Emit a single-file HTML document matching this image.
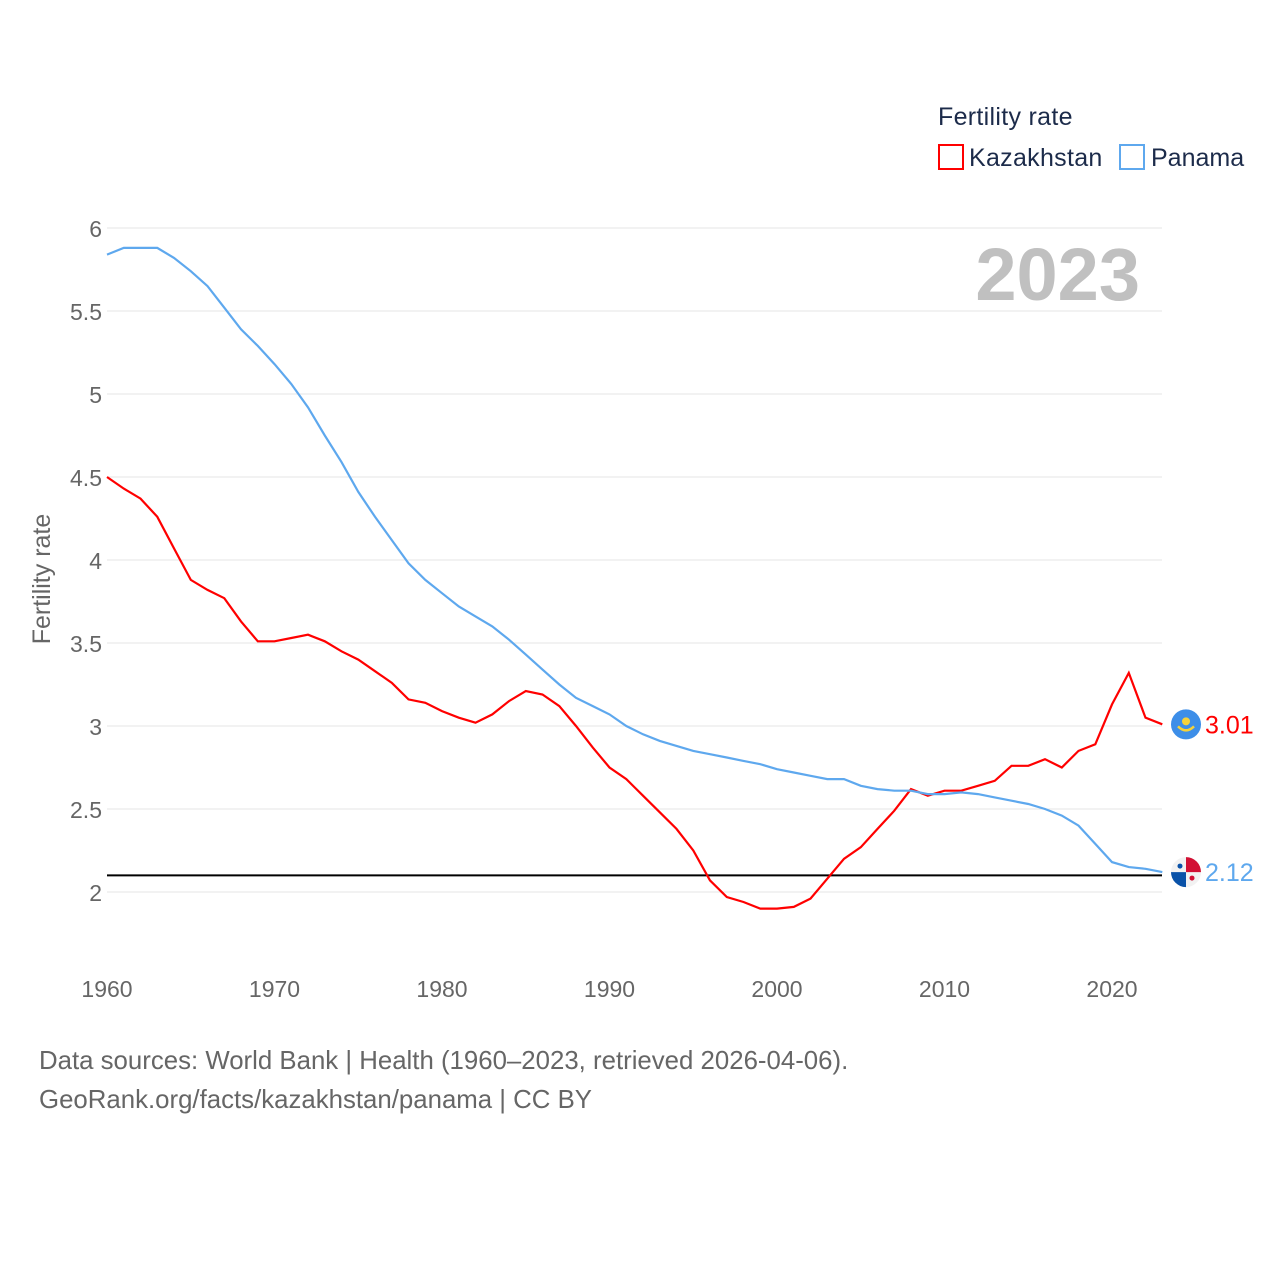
<!DOCTYPE html>
<html><head><meta charset="utf-8"><style>
html,body{margin:0;padding:0;background:#fff;}
body{width:1280px;height:1280px;overflow:hidden;font-family:"Liberation Sans",sans-serif;}
</style></head><body>
<svg id="chart" width="1280" height="1280" xmlns="http://www.w3.org/2000/svg" font-family="Liberation Sans, sans-serif">
<g id="grid"></g>
<g id="yticks"></g>
<g id="xticks"></g>
<text x="1140" y="300" text-anchor="end" font-size="74" font-weight="bold" fill="#c0c0c0">2023</text>
<text transform="translate(50,579) rotate(-90)" text-anchor="middle" font-size="25" fill="#666">Fertility rate</text>
<line id="refline" x1="107" x2="1162" stroke="#000" stroke-width="2"/>
<path id="kaz" fill="none" stroke="#f00" stroke-width="2.2"/>
<path id="pan" fill="none" stroke="#5ea8ee" stroke-width="2.2"/>
<g id="ends"></g>
<g>
<text x="938" y="125" font-size="25" fill="#1c2b4a" letter-spacing="0.3">Fertility rate</text>
<rect x="939" y="145" width="24" height="24" fill="none" stroke="#f00" stroke-width="2"/>
<text x="969" y="166" font-size="25" fill="#1c2b4a" letter-spacing="0.3">Kazakhstan</text>
<rect x="1120" y="145" width="24" height="24" fill="none" stroke="#5ea8ee" stroke-width="2"/>
<text x="1151" y="166" font-size="25" fill="#1c2b4a">Panama</text>
</g>
<text x="39" y="1069" font-size="25.8" fill="#666">Data sources: World Bank | Health (1960–2023, retrieved 2026-04-06).</text>
<text x="39" y="1108" font-size="25.8" fill="#666">GeoRank.org/facts/kazakhstan/panama | CC BY</text>
</svg>
<script>
const startYear = 1960;
const kazakhstan = [4.50,4.43,4.37,4.26,4.07,3.88,3.82,3.77,3.63,3.51,3.51,3.53,3.55,3.51,3.45,3.40,3.33,3.26,3.16,3.14,3.09,3.05,3.02,3.07,3.15,3.21,3.19,3.12,3.00,2.87,2.75,2.68,2.58,2.48,2.38,2.25,2.07,1.97,1.94,1.90,1.90,1.91,1.96,2.08,2.20,2.27,2.38,2.49,2.62,2.58,2.61,2.61,2.64,2.67,2.76,2.76,2.80,2.75,2.85,2.89,3.13,3.32,3.05,3.01];
const panama = [5.84,5.88,5.88,5.88,5.82,5.74,5.65,5.52,5.39,5.29,5.18,5.06,4.92,4.75,4.59,4.41,4.26,4.12,3.98,3.88,3.80,3.72,3.66,3.60,3.52,3.43,3.34,3.25,3.17,3.12,3.07,3.00,2.95,2.91,2.88,2.85,2.83,2.81,2.79,2.77,2.74,2.72,2.70,2.68,2.68,2.64,2.62,2.61,2.61,2.59,2.59,2.60,2.59,2.57,2.55,2.53,2.50,2.46,2.40,2.29,2.18,2.15,2.14,2.12];
const yTicks = [2,2.5,3,3.5,4,4.5,5,5.5,6];
const yTickLabels = ["2","2.5","3","3.5","4","4.5","5","5.5","6"];
const xTicks = [1960,1970,1980,1990,2000,2010,2020];
const referenceValue = 2.1;
const NS="http://www.w3.org/2000/svg";
function xs(y){return 107+(y-1960)*(1112-107)/60;}
function ys(v){return 892-(v-2)*166;}
function mk(t,a,p){const e=document.createElementNS(NS,t);for(const k in a)e.setAttribute(k,a[k]);p.appendChild(e);return e;}
const grid=document.getElementById('grid'),yt=document.getElementById('yticks'),xt=document.getElementById('xticks');
yTicks.forEach((v,i)=>{
 const l=mk('line',{x1:107,x2:1162,y1:ys(v),y2:ys(v),stroke:'#e6e6e6','stroke-width':1},grid);
 
 
 const t=mk('text',{x:102,y:ys(v)+9,'text-anchor':'end','font-size':23,fill:'#666'},yt);
 t.textContent=yTickLabels[i];
 
 
});
xTicks.forEach(y=>{
 const t=mk('text',{x:xs(y),y:997,'text-anchor':'middle','font-size':23,fill:'#666'},xt);
 t.textContent=y;
 
 
});
const rl=document.getElementById('refline');rl.setAttribute('y1',ys(referenceValue));rl.setAttribute('y2',ys(referenceValue));
function path(arr){return arr.map((v,i)=>(i?'L':'M')+xs(startYear+i).toFixed(1)+' '+ys(v).toFixed(1)).join(' ');}
document.getElementById('kaz').setAttribute('d',path(kazakhstan));
document.getElementById('pan').setAttribute('d',path(panama));
const ends=document.getElementById('ends');
function endLabel(arr,color,name,flag){
 const v=arr[arr.length-1],cy=ys(v),cx=1186;
 const g=mk('g',{},ends);
 
 
 flag(g,cx,cy);
 const t=mk('text',{x:1205,y:cy+9,'font-size':25,fill:color},g);
 t.textContent=v.toFixed(2);
}
endLabel(kazakhstan,'#f00','kazakhstan',(g,cx,cy)=>{
 mk('circle',{cx:cx,cy:cy,r:15,fill:'#3d8ee8'},g);
 mk('circle',{cx:cx,cy:cy-3,r:4,fill:'#f6d23a'},g);
 mk('path',{d:`M${cx-8} ${cy+2} Q${cx} ${cy+10} ${cx+8} ${cy+2}`,stroke:'#f6d23a','stroke-width':2.5,fill:'none'},g);
});
endLabel(panama,'#5ea8ee','panama',(g,cx,cy)=>{
 mk('circle',{cx:cx,cy:cy,r:15,fill:'#f2f2f2'},g);
 mk('path',{d:`M${cx} ${cy} L${cx} ${cy-15} A15 15 0 0 1 ${cx+15} ${cy} Z`,fill:'#d21034'},g);
 mk('path',{d:`M${cx} ${cy} L${cx} ${cy+15} A15 15 0 0 1 ${cx-15} ${cy} Z`,fill:'#0a52a8'},g);
 mk('circle',{cx:cx-6,cy:cy-6,r:2.5,fill:'#0a52a8'},g);
 mk('circle',{cx:cx+6,cy:cy+6,r:2.5,fill:'#d21034'},g);
});
</script>
</body></html>
